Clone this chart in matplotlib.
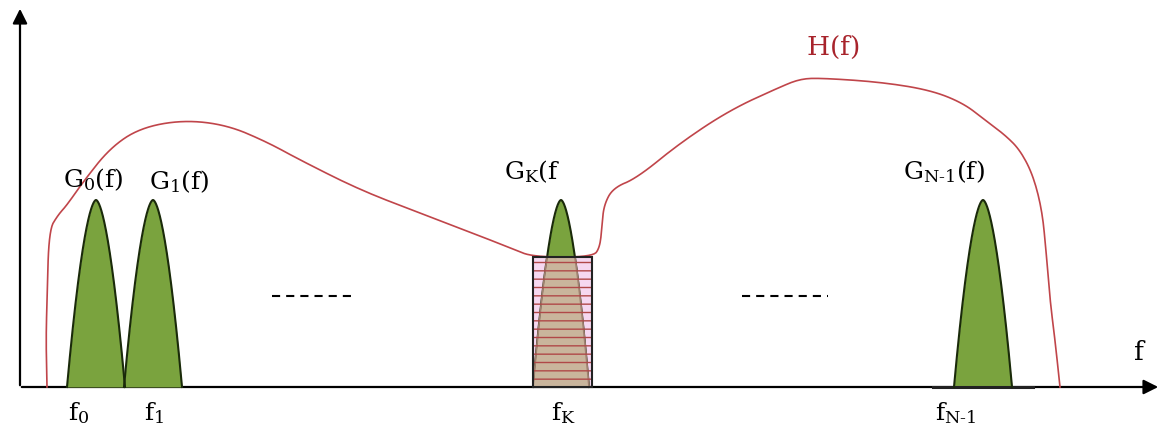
import numpy as np
import matplotlib.pyplot as plt
from matplotlib.patches import Rectangle

plt.rcParams["mathtext.fontset"] = "dejavuserif"
plt.rcParams["font.family"] = ["DejaVu Serif"]

# H(f) envelope (pixel-like units, y grows downward)
h_x = [47, 46, 47, 49, 58, 67, 83, 110, 140, 183, 227, 267, 300, 360, 420, 480,
       513, 533, 593, 600, 602, 604, 613, 637, 680, 730, 780, 800, 820, 880, 930,
       963, 985, 1005, 1020, 1033, 1042, 1046, 1050, 1055, 1060]
h_y = [387, 340, 300, 230, 215, 205, 182, 148, 128, 120, 125, 142, 160, 190, 213, 236,
       249, 257, 257, 247, 225, 205, 188, 178, 143, 110, 87, 79, 78, 82, 90,
       103, 120, 135, 150, 175, 210, 250, 300, 340, 387]

# sub-band filters G_k(f)
peak_centers = [96, 153, 561, 983]
peak_halfwidth = [29, 29, 28, 29]
peak_top = 200
baseline = 387
peak_labels = [r"$\mathrm{G_0(f)}$", r"$\mathrm{G_1(f)}$", r"$\mathrm{G_K(f}$", r"$\mathrm{G_{N\text{-}1}(f)}$"]
freq_labels = [r"$\mathrm{f_0}$", r"$\mathrm{f_1}$", r"$\mathrm{f_K}$", r"$\mathrm{f_{N\text{-}1}}$"]

# shaded band around f_K
box_left, box_right, box_top = 533, 592, 257

green = "#7aa33e"


def chaikin(x, y, n=3):
    p = np.column_stack([x, y]).astype(float)
    for _ in range(n):
        q = 0.75 * p[:-1] + 0.25 * p[1:]
        r = 0.25 * p[:-1] + 0.75 * p[1:]
        mid = np.empty((2 * len(q), 2))
        mid[0::2] = q
        mid[1::2] = r
        p = np.vstack([p[:1], mid, p[-1:]])
    return p[:, 0], p[:, 1]


fig = plt.figure(figsize=(11.62, 4.32), dpi=100)
ax = fig.add_axes([0, 0, 1, 1])
ax.set_xlim(0, 1162)
ax.set_ylim(432, 0)
ax.axis("off")

# axes with arrows
ax.annotate("", xy=(20, 6), xytext=(20, baseline + 1),
            arrowprops=dict(arrowstyle="-|>", lw=1.6, color="black", mutation_scale=22))
ax.annotate("", xy=(1161, baseline), xytext=(19, baseline),
            arrowprops=dict(arrowstyle="-|>", lw=1.6, color="black", mutation_scale=22))

# pink band
ax.add_patch(Rectangle((box_left, box_top), box_right - box_left, baseline - box_top,
                       facecolor="#f6d8f0", edgecolor="none", zorder=2))

for i, c in enumerate(peak_centers):
    w = peak_halfwidth[i]
    xs = np.linspace(c - w, c + w, 200)
    ys = baseline - (baseline - peak_top) * (1 - np.abs((xs - c) / w) ** 1.7)
    ax.fill_between(xs, baseline, ys, color=green, zorder=3, lw=0)
    ax.plot(xs, ys, color="#1a2a0a", lw=1.5, zorder=3.5)
    if i == 2:
        clip = Rectangle((box_left, box_top), box_right - box_left, baseline - box_top,
                         transform=ax.transData)
        tan = ax.fill_between(xs, baseline, ys, color="#c9b59c", zorder=4, lw=0)
        tan.set_clip_path(clip)
        edge, = ax.plot(xs, ys, color="#a08070", lw=1.2, zorder=4.2)
        edge.set_clip_path(clip)

# thick base under the last filter
ax.plot([933, 1033], [baseline, baseline], color="#222222", lw=2.2, zorder=3)

# hatch lines + outline on the band
ax.add_patch(Rectangle((box_left, box_top), box_right - box_left, baseline - box_top,
                       facecolor="none", edgecolor="#b04848", hatch="--", lw=0, zorder=5))
ax.add_patch(Rectangle((box_left, box_top), box_right - box_left, baseline - box_top,
                       facecolor="none", edgecolor="#222222", lw=1.5, zorder=6))

# H(f)
sx, sy = chaikin(h_x, h_y)
ax.plot(sx, sy, color="#c0454a", lw=1.2, zorder=4.5)
ax.text(833, 47, r"$\mathrm{H(f)}$", color="#a8242c", fontsize=19, ha="center", va="center")

label_x = [93, 179, 532, 944]
label_y = [180, 182, 172, 172]
for i in range(4):
    ax.text(label_x[i], label_y[i], peak_labels[i], fontsize=18, ha="center", va="center", zorder=7)

freq_x = [79, 154, 563, 956]
for i in range(4):
    ax.text(freq_x[i], 413, freq_labels[i], fontsize=18, ha="center", va="center")

ax.text(1140, 352, r"$\mathrm{f}$", fontsize=19, ha="center", va="center")

# "------" gaps between the filters
for x0, x1 in [(272, 357), (742, 828)]:
    ax.plot([x0, x1], [296, 296], color="black", lw=1.5, dashes=(3.9, 2.9))

fig.savefig("out.png", dpi=100)
